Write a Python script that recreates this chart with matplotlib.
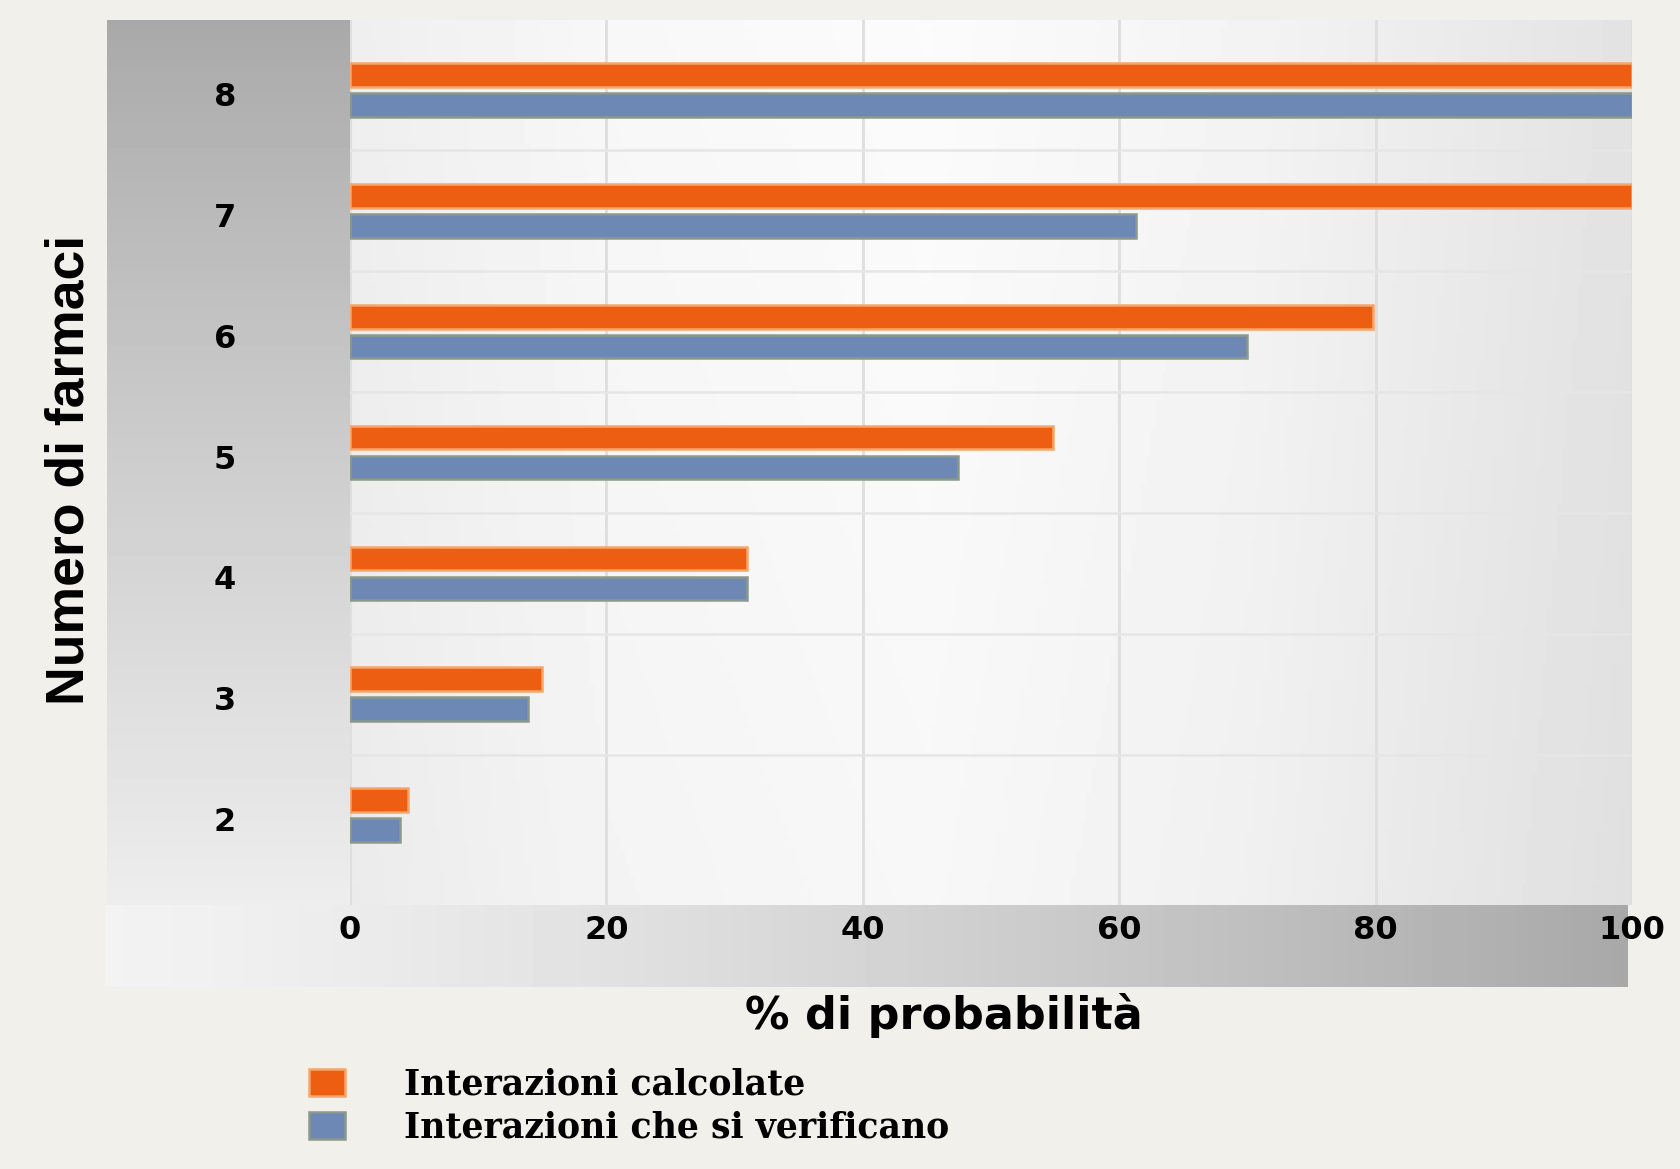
import numpy as np
import matplotlib
matplotlib.use("Agg")
import matplotlib.pyplot as plt
import matplotlib.transforms as mtrans

# ---------------- data ----------------
categories = [2, 3, 4, 5, 6, 7, 8]
interazioni_calcolate = [4.5, 15.0, 31.0, 54.8, 79.8, 100.0, 100.0]
interazioni_verificate = [3.9, 13.9, 31.0, 47.4, 70.0, 61.3, 100.0]
x_ticks = [0, 20, 40, 60, 80, 100]
series_labels = ["Interazioni calcolate", "Interazioni che si verificano"]
x_label = "% di probabilità"
y_label = "Numero di farmaci"

# ---------------- style ----------------
ORANGE = "#ee5e12"
ORANGE_EDGE = "#f6a66a"
BLUE = "#6e88b5"
BLUE_EDGE = "#8a998c"

W, H = 1680, 1169
fig = plt.figure(figsize=(W / 100, H / 100), dpi=100, facecolor="#f2f0eb")


def fx(px):
    return px / W


def fy(py):
    return 1 - py / H


# left grey panel (vertical gradient)
lp = fig.add_axes([fx(107), fy(905), (350 - 107) / W, (905 - 20) / H])
t = np.linspace(0, 1, 256)[:, None]
lp.imshow(0.66 + 0.27 * t ** 0.9 * np.ones((1, 8)), cmap="gray", vmin=0, vmax=1,
          aspect="auto", extent=[0, 1, 0, 1], transform=lp.transAxes)
lp.axis("off")

# bottom grey panel (horizontal gradient)
bp = fig.add_axes([fx(105), fy(987), (1628 - 105) / W, (987 - 905) / H])
s = np.linspace(0, 1, 256)[None, :]
bp.imshow(np.ones((8, 1)) * (0.95 - 0.29 * s ** 1.3), cmap="gray", vmin=0, vmax=1,
          aspect="auto", extent=[0, 1, 0, 1], transform=bp.transAxes)
bp.axis("off")

# main axes
ax = fig.add_axes([fx(350), fy(905), (1632 - 350) / W, (905 - 20) / H])
ax.set_zorder(5)
ax.set_facecolor("none")
xs = np.linspace(0, 1, 256)
hprof = np.interp(xs, [0, 0.2, 0.45, 0.7, 1.0], [0.935, 0.97, 0.985, 0.955, 0.89])
ys = np.linspace(0, 1, 128)[:, None]
vprof = 0.985 + 0.015 * (1 - ys)
bg = np.clip(hprof[None, :] * vprof, 0, 1)
ax.imshow(bg, cmap="gray", vmin=0, vmax=1, aspect="auto",
          extent=[0, 1, 0, 1], transform=ax.transAxes, zorder=-2, origin="upper")

cats = np.array(categories, dtype=float)
off = 0.124
bh = 0.195
b1 = ax.barh(cats + off, interazioni_calcolate, height=bh, color=ORANGE,
             edgecolor=ORANGE_EDGE, linewidth=1.8, zorder=3, label=series_labels[0])
b2 = ax.barh(cats - off, interazioni_verificate, height=bh, color=BLUE,
             edgecolor=BLUE_EDGE, linewidth=1.8, zorder=3, label=series_labels[1])

ax.set_xlim(0, 100)
ax.set_ylim(1.255, 8.58)
ax.set_xticks(x_ticks)
ax.set_xticklabels([str(v) for v in x_ticks], fontsize=23, fontweight="bold",
                   family="DejaVu Sans")
ax.set_yticks(categories)
ax.set_yticklabels([str(c) for c in categories], fontsize=23, fontweight="bold",
                   family="DejaVu Sans", ha="center")
ax.set_yticks([c + 0.5 for c in categories[:-1]], minor=True)
ax.tick_params(axis="both", which="both", length=0)
ax.tick_params(axis="y", pad=90)
ax.tick_params(axis="x", pad=7)

shift = mtrans.ScaledTranslation(0, -4 / 100, fig.dpi_scale_trans)
for lbl in ax.get_yticklabels():
    lbl.set_transform(lbl.get_transform() + shift)

ax.set_axisbelow(True)
ax.grid(axis="x", which="major", color="#dedede", linewidth=2.0)
ax.grid(axis="y", which="minor", color="#e6e6e6", linewidth=1.8)
ax.grid(axis="y", which="major", visible=False)
for sp in ax.spines.values():
    sp.set_visible(False)

ax.set_ylabel(y_label, fontsize=38.5, fontweight="bold", family="Liberation Sans",
              va="center")
ax.yaxis.set_label_coords((70 - 350) / 1282, (905 - 470) / 885)
ax.set_xlabel(x_label, fontsize=32, fontweight="bold", family="DejaVu Sans",
              va="center")
ax.xaxis.set_label_coords((944 - 350) / 1282, (905 - 1015) / 885)

fig.legend(handles=[b1, b2], labels=series_labels, loc="center left",
           bbox_to_anchor=(fx(309), fy(1106)), frameon=False,
           prop={"family": "DejaVu Serif", "weight": "bold", "size": 25},
           handlelength=1.05, handleheight=0.82, handletextpad=1.7,
           labelspacing=0.25, borderpad=0, borderaxespad=0)

fig.savefig("out.png", dpi=100, facecolor=fig.get_facecolor())
